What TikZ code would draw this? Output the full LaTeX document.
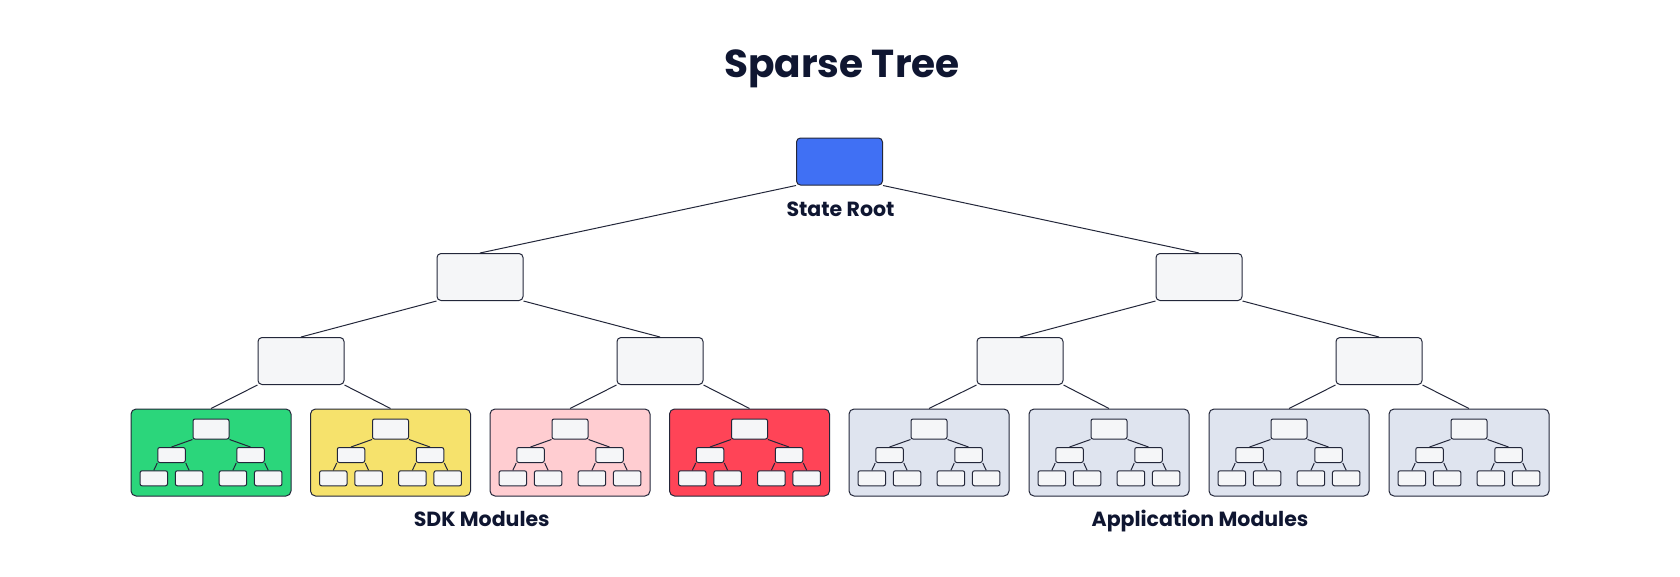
\documentclass[tikz,border=0pt]{standalone}
\usepackage{fontspec}
\setmainfont{Poppins}
\definecolor{ink}{HTML}{0F1631}
\definecolor{linec}{HTML}{23273A}
\definecolor{boxfill}{HTML}{F5F6F8}
\definecolor{rootblue}{HTML}{4070F4}
\definecolor{pgreen}{HTML}{2BD67B}
\definecolor{pyellow}{HTML}{F6E26C}
\definecolor{ppink}{HTML}{FFCDD1}
\definecolor{pred}{HTML}{FF4457}
\definecolor{pgray}{HTML}{DFE4EF}
\tikzset{
  bigbox/.style={draw=linec, fill=boxfill, line width=1pt, rounded corners=4pt, minimum width=86pt, minimum height=47pt, inner sep=0pt},
  panel/.style={draw=linec, line width=1pt, rounded corners=5pt, minimum width=160pt, minimum height=87pt, inner sep=0pt},
  topbox/.style={draw=linec, fill=boxfill, line width=1pt, rounded corners=2pt, minimum width=36pt, minimum height=20pt, inner sep=0pt},
  smallbox/.style={draw=linec, fill=boxfill, line width=1pt, rounded corners=2pt, minimum width=27.5pt, minimum height=15pt, inner sep=0pt},
  edge/.style={draw=linec, line width=1pt},
  lbl/.style={text=ink, font=\fontsize{20.5}{24}\selectfont\bfseries, inner sep=0pt, anchor=base}
}
\newcommand{\minitree}[3]{%
  \node[panel, fill=#3] (#1) at (#2,452.5) {};
  \node[topbox] (#1-t) at (#2,429) {};
  \node[smallbox] (#1-m1) at (#2-39.5,455) {};
  \node[smallbox] (#1-m2) at (#2+39.5,455) {};
  \node[smallbox] (#1-l1) at (#2-57.2,478.3) {};
  \node[smallbox] (#1-l2) at (#2-21.9,478.3) {};
  \node[smallbox] (#1-l3) at (#2+21.9,478.3) {};
  \node[smallbox] (#1-l4) at (#2+57.2,478.3) {};
  \draw[edge] (#1-t.south west) -- (#1-m1.north);
  \draw[edge] (#1-t.south east) -- (#1-m2.north);
  \draw[edge] (#1-m1.south west) -- (#1-l1.north);
  \draw[edge] (#1-m1.south east) -- (#1-l2.north);
  \draw[edge] (#1-m2.south west) -- (#1-l3.north);
  \draw[edge] (#1-m2.south east) -- (#1-l4.north);
}
\begin{document}
\begin{tikzpicture}[x=1pt,y=-1pt]
\useasboundingbox (0,0) rectangle (1680,576);
\node[text=ink, font=\fontsize{39}{46}\selectfont\bfseries, inner sep=0pt, anchor=base] (title) at (842,77.7) {Sparse Tree};
% root
\node[bigbox, fill=rootblue] (root) at (839.5,161.5) {};
\node[lbl] (rootlbl) at (840.5,216.7) {State Root};
% level 2
\node[bigbox] (a) at (480,277) {};
\node[bigbox] (b) at (1199,277) {};
% level 3
\node[bigbox] (a1) at (301,361) {};
\node[bigbox] (a2) at (660,361) {};
\node[bigbox] (b1) at (1020,361) {};
\node[bigbox] (b2) at (1379,361) {};
% panels
\minitree{p1}{211}{pgreen}
\minitree{p2}{390.5}{pyellow}
\minitree{p3}{570}{ppink}
\minitree{p4}{749.5}{pred}
\minitree{p5}{929}{pgray}
\minitree{p6}{1109}{pgray}
\minitree{p7}{1289}{pgray}
\minitree{p8}{1469}{pgray}
% edges
\draw[edge] (root.south west) -- (a.north);
\draw[edge] (root.south east) -- (b.north);
\draw[edge] (a.south west) -- (a1.north);
\draw[edge] (a.south east) -- (a2.north);
\draw[edge] (b.south west) -- (b1.north);
\draw[edge] (b.south east) -- (b2.north);
\draw[edge] (a1.south west) -- (p1.north);
\draw[edge] (a1.south east) -- (p2.north);
\draw[edge] (a2.south west) -- (p3.north);
\draw[edge] (a2.south east) -- (p4.north);
\draw[edge] (b1.south west) -- (p5.north);
\draw[edge] (b1.south east) -- (p6.north);
\draw[edge] (b2.south west) -- (p7.north);
\draw[edge] (b2.south east) -- (p8.north);
% group labels
\node[lbl] (sdk) at (481.7,526.3) {SDK Modules};
\node[lbl] (app) at (1200,526.3) {Application Modules};
\end{tikzpicture}
\end{document}
